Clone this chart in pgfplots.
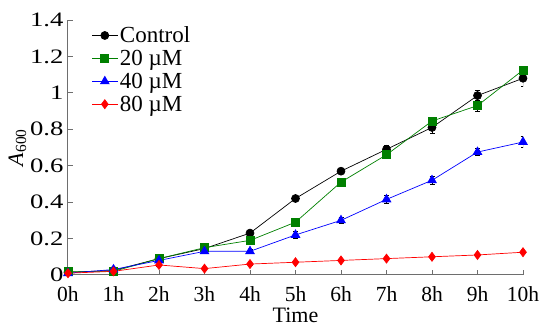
\documentclass[border=0pt]{standalone}
\usepackage{pgfplots}
\pgfplotsset{compat=1.18}
\usepackage{fontspec}
\setmainfont{Liberation Serif}
\newfontfamily\wideserif[FakeStretch=1.3]{Liberation Serif}
\definecolor{cgreen}{RGB}{0,128,0}
\definecolor{axgray}{RGB}{110,110,110}
\begin{document}
\begin{tikzpicture}
\begin{axis}[
  name=ax,
  scale only axis, width=455pt, height=255pt,
  xmin=0, xmax=10, ymin=0, ymax=1.4,
  axis lines=left, axis line style={axgray, line width=1pt, -},
  xtick={0,...,10}, xticklabels={0h,1h,2h,3h,4h,5h,6h,7h,8h,9h,10h},
  ytick={0,0.2,0.4,0.6,0.8,1,1.2,1.4},
  yticklabels={0,0.2,0.4,0.6,0.8,1,1.2,1.4},
  tick style={axgray, line width=0.8pt}, tick align=inside,
  major tick length=5pt,
  xticklabel style={font=\fontsize{21.5}{23}\selectfont, yshift=-8pt},
  yticklabel style={font=\wideserif\fontsize{20.5}{22}\selectfont, xshift=-1pt},
  xlabel={Time}, ylabel={\textit{A}\textsubscript{600}},
  xlabel style={font=\fontsize{22}{23}\selectfont, yshift=1pt},
  ylabel style={font=\fontsize{22}{23}\selectfont, yshift=-3pt},
  legend style={draw=none, fill=none, at={(0.045,0.99)}, anchor=north west, font=\fontsize{23}{24}\selectfont, row sep=2pt},
  legend cell align=left,
  legend image code/.code={\draw[mark repeat=2, mark phase=2, #1] plot coordinates {(0cm,0cm) (0.45cm,0cm) (0.9cm,0cm)};},
  legend image post style={line width=0.7pt},
  every axis plot/.append style={line width=0.7pt},
  error bars/error bar style={black, line width=0.7pt},
  error bars/error mark options={rotate=90, mark size=2.5pt, black, line width=0.7pt},
]
\addplot[black, mark=*, mark size=4pt, error bars/.cd, y dir=both, y explicit] coordinates {
(0,0.015)+-(0,0.005) (1,0.025)+-(0,0.005) (2,0.09)+-(0,0.01) (3,0.145)+-(0,0.01) (4,0.23)+-(0,0.01) (5,0.42)+-(0,0.01) (6,0.57)+-(0,0.01) (7,0.69)+-(0,0.02) (8,0.81)+-(0,0.03) (9,0.985)+-(0,0.03) (10,1.08)+-(0,0.045)};
\addlegendentry{Control}
\addplot[cgreen, mark=square*, mark size=4pt, mark options={fill=cgreen}, error bars/.cd, y dir=both, y explicit] coordinates {
(0,0.02)+-(0,0.005) (1,0.02)+-(0,0.005) (2,0.09)+-(0,0.01) (3,0.15)+-(0,0.01) (4,0.19)+-(0,0.01) (5,0.29)+-(0,0.01) (6,0.51)+-(0,0.015) (7,0.66)+-(0,0.02) (8,0.845)+-(0,0.02) (9,0.93)+-(0,0.03) (10,1.125)+-(0,0.02)};
\addlegendentry{20 µM}
\addplot[blue, mark=triangle*, mark size=5pt, mark options={fill=blue}, error bars/.cd, y dir=both, y explicit] coordinates {
(0,0.01)+-(0,0.005) (1,0.03)+-(0,0.005) (2,0.08)+-(0,0.01) (3,0.13)+-(0,0.01) (4,0.13)+-(0,0.01) (5,0.22)+-(0,0.02) (6,0.30)+-(0,0.015) (7,0.415)+-(0,0.02) (8,0.52)+-(0,0.02) (9,0.675)+-(0,0.02) (10,0.73)+-(0,0.03)};
\addlegendentry{40 µM}
\addplot[red, mark=diamond*, mark size=4.5pt, mark options={fill=red}, error bars/.cd, y dir=both, y explicit] coordinates {
(0,0.01)+-(0,0.005) (1,0.02)+-(0,0.005) (2,0.055)+-(0,0.005) (3,0.035)+-(0,0.005) (4,0.06)+-(0,0.005) (5,0.07)+-(0,0.005) (6,0.08)+-(0,0.005) (7,0.09)+-(0,0.005) (8,0.10)+-(0,0.005) (9,0.11)+-(0,0.005) (10,0.125)+-(0,0.005)};
\addlegendentry{80 µM}
\end{axis}
\pgfresetboundingbox
\path ([shift={(-68pt,-53pt)}]ax.south west) rectangle ([shift={(18pt,20pt)}]ax.north east);
\end{tikzpicture}
\end{document}
